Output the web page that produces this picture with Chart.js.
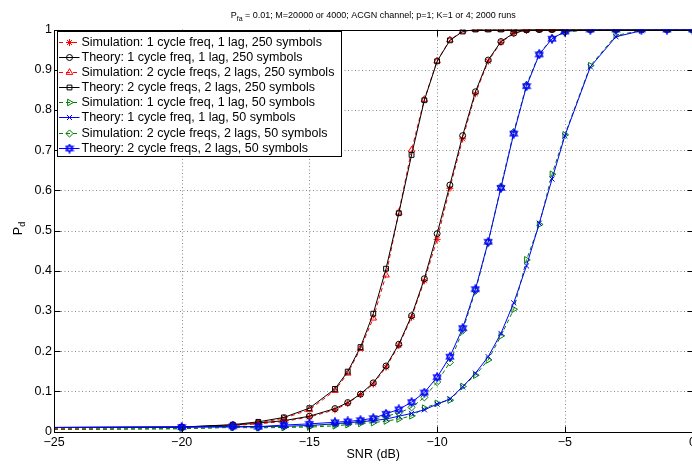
<!DOCTYPE html>
<html>
<head>
<meta charset="utf-8">
<script src="https://cdn.jsdelivr.net/npm/chart.js@4"></script>
<style>
html,body{margin:0;padding:0;background:#fff;overflow:hidden;}
canvas{display:block;}
</style>
</head>
<body>
<canvas id="c" width="700" height="465"></canvas>
<script>
// ---- data ----
const snr = [-25, -20, -18, -17, -16, -15, -14, -13.5, -13, -12.5, -12, -11.5, -11, -10.5, -10, -9.5, -9, -8.5, -8, -7.5, -7, -6.5, -6, -5.5, -5, -4, -3, -2, -1, 0];

const sim1c250 = [0.008, 0.010, 0.015, 0.019, 0.025, 0.036, 0.054, 0.070, 0.092, 0.118, 0.160, 0.214, 0.284, 0.375, 0.478, 0.605, 0.728, 0.840, 0.921, 0.968, 0.990, 0.998, 1, 1, 1, 1, 1, 1, 1, 1];
const th1c250  = [0.010, 0.011, 0.016, 0.021, 0.027, 0.038, 0.057, 0.072, 0.093, 0.121, 0.163, 0.217, 0.288, 0.380, 0.492, 0.613, 0.736, 0.845, 0.924, 0.970, 0.991, 0.999, 1, 1, 1, 1, 1, 1, 1, 1];
const sim2c250 = [0.008, 0.010, 0.016, 0.021, 0.033, 0.054, 0.102, 0.145, 0.206, 0.282, 0.389, 0.545, 0.700, 0.826, 0.922, 0.974, 0.996, 1, 1, 1, 1, 1, 1, 1, 1, 1, 1, 1, 1, 1];
const th2c250  = [0.010, 0.011, 0.017, 0.024, 0.035, 0.058, 0.106, 0.149, 0.210, 0.293, 0.405, 0.543, 0.688, 0.824, 0.921, 0.973, 0.995, 1, 1, 1, 1, 1, 1, 1, 1, 1, 1, 1, 1, 1];
const sim1c50  = [0.005, 0.007, 0.010, 0.009, 0.010, 0.011, 0.014, 0.017, 0.020, 0.022, 0.026, 0.031, 0.039, 0.058, 0.070, 0.078, 0.112, 0.140, 0.178, 0.238, 0.304, 0.427, 0.515, 0.640, 0.738, 0.910, 0.985, 0.998, 1, 1];
const th1c50   = [0.010, 0.011, 0.011, 0.012, 0.013, 0.015, 0.019, 0.022, 0.024, 0.027, 0.031, 0.038, 0.045, 0.054, 0.068, 0.081, 0.111, 0.145, 0.186, 0.244, 0.320, 0.412, 0.518, 0.628, 0.735, 0.907, 0.982, 0.997, 1, 1];
const sim2c50  = [0.005, 0.007, 0.011, 0.010, 0.012, 0.014, 0.018, 0.021, 0.025, 0.030, 0.038, 0.046, 0.060, 0.085, 0.123, 0.172, 0.251, 0.350, 0.470, 0.610, 0.745, 0.862, 0.940, 0.978, 0.993, 1, 1, 1, 1, 1];
const th2c50   = [0.010, 0.011, 0.013, 0.012, 0.016, 0.019, 0.023, 0.025, 0.028, 0.033, 0.044, 0.055, 0.073, 0.097, 0.135, 0.186, 0.257, 0.354, 0.472, 0.606, 0.741, 0.859, 0.938, 0.977, 0.995, 1, 1, 1, 1, 1];

const seriesNames = [
  'Simulation: 1 cycle freq, 1 lag, 250 symbols',
  'Theory: 1 cycle freq, 1 lag, 250 symbols',
  'Simulation: 2 cycle freqs, 2 lags, 250 symbols',
  'Theory: 2 cycle freqs, 2 lags, 250 symbols',
  'Simulation: 1 cycle freq, 1 lag, 50 symbols',
  'Theory: 1 cycle freq, 1 lag, 50 symbols',
  'Simulation: 2 cycle freqs, 2 lags, 50 symbols',
  'Theory: 2 cycle freqs, 2 lags, 50 symbols'
];
const xTickLabels = ['\u221225', '\u221220', '\u221215', '\u221210', '\u22125', '0'];
const yTickLabels = ['0', '0.1', '0.2', '0.3', '0.4', '0.5', '0.6', '0.7', '0.8', '0.9', '1'];
const titleMain = 'P';
const titleSub = 'fa';
const titleRest = ' = 0.01; M=20000 or 4000; ACGN channel; p=1; K=1 or 4; 2000 runs';
const xTitle = 'SNR (dB)';
const yTitleMain = 'P';
const yTitleSub = 'd';

// ---- styles ----
const FONT = "'Liberation Sans', Arial, Helvetica, sans-serif";
const FS = 12.5;
const RED = '#ff0000', BLACK = '#000000', GREEN = '#008000', BLUE = '#0000ff';

function makeHexagram(color) {
  const c = document.createElement('canvas');
  c.width = 10; c.height = 10;
  const g = c.getContext('2d');
  g.strokeStyle = color; g.lineWidth = 1.2;
  const cx = 5, cy = 5, r = 4.2;
  for (let t = 0; t < 2; t++) {
    g.beginPath();
    for (let k = 0; k < 3; k++) {
      const a = -Math.PI / 2 + t * Math.PI + k * 2 * Math.PI / 3;
      const px = cx + r * Math.cos(a), py = cy + r * Math.sin(a);
      if (k === 0) g.moveTo(px, py); else g.lineTo(px, py);
    }
    g.closePath();
    g.stroke();
  }
  return c;
}
const hexagram = makeHexagram(BLUE);

const styles = [
  {color: RED, dash: [4, 3], point: 'star', radius: 3.5, rot: 0},
  {color: BLACK, dash: [], point: 'circle', radius: 3, rot: 0},
  {color: RED, dash: [4, 3], point: 'triangle', radius: 3.8, rot: 0},
  {color: BLACK, dash: [], point: 'rect', radius: 3.4, rot: 0},
  {color: GREEN, dash: [4, 3], point: 'triangle', radius: 3.8, rot: 90},
  {color: BLUE, dash: [], point: 'crossRot', radius: 3.6, rot: 0},
  {color: GREEN, dash: [4, 3], point: 'rectRot', radius: 3.6, rot: 0},
  {color: BLUE, dash: [], point: hexagram, radius: 4, rot: 0}
];
const seriesValues = [sim1c250, th1c250, sim2c250, th2c250, sim1c50, th1c50, sim2c50, th2c50];

const datasets = seriesValues.map((vals, i) => ({
  label: seriesNames[i],
  data: snr.map((x, j) => ({x: x, y: vals[j]})),
  borderColor: styles[i].color,
  backgroundColor: 'rgba(0,0,0,0)',
  borderWidth: 1,
  borderDash: styles[i].dash,
  pointStyle: styles[i].point,
  pointRotation: styles[i].rot,
  pointRadius: snr.map((x, j) => j === 0 ? 0 : styles[i].radius),
  pointBorderColor: styles[i].color,
  pointBackgroundColor: 'rgba(0,0,0,0)',
  pointBorderWidth: 1,
  tension: 0,
  order: 20 - i
}));

const framePlugin = {
  id: 'frame',
  beforeDatasetsDraw(chart) {
    const ctx = chart.ctx, a = chart.chartArea;
    const xs = chart.scales.x, ys = chart.scales.y;
    ctx.save();
    ctx.strokeStyle = '#8a8a8a';
    ctx.lineWidth = 1;
    ctx.setLineDash([1, 2.5]);
    xs.ticks.forEach(t => {
      if (t.value <= xs.min || t.value >= xs.max) return;
      const px = Math.round(xs.getPixelForValue(t.value)) + 0.5;
      ctx.beginPath(); ctx.moveTo(px, a.top); ctx.lineTo(px, a.bottom); ctx.stroke();
    });
    ys.ticks.forEach(t => {
      if (t.value <= ys.min || t.value >= ys.max) return;
      const py = Math.round(ys.getPixelForValue(t.value)) + 0.5;
      ctx.beginPath(); ctx.moveTo(a.left, py); ctx.lineTo(a.right, py); ctx.stroke();
    });
    ctx.restore();
  },
  afterDatasetsDraw(chart) {
    const ctx = chart.ctx, a = chart.chartArea;
    const xs = chart.scales.x, ys = chart.scales.y;
    ctx.save();
    ctx.strokeStyle = '#000';
    ctx.lineWidth = 1;
    ctx.setLineDash([]);
    const L = Math.round(a.left) + 0.5, R = Math.round(a.right) + 0.5;
    const T = Math.round(a.top) + 0.5, B = Math.round(a.bottom) + 0.5;
    ctx.strokeRect(L, T, R - L, B - T);
    const tl = 6;
    xs.ticks.forEach(t => {
      const px = Math.round(xs.getPixelForValue(t.value)) + 0.5;
      ctx.beginPath();
      ctx.moveTo(px, B); ctx.lineTo(px, B - tl);
      ctx.moveTo(px, T); ctx.lineTo(px, T + tl);
      ctx.stroke();
    });
    ys.ticks.forEach(t => {
      const py = Math.round(ys.getPixelForValue(t.value)) + 0.5;
      ctx.beginPath();
      ctx.moveTo(L, py); ctx.lineTo(L + tl, py);
      ctx.moveTo(R, py); ctx.lineTo(R - tl, py);
      ctx.stroke();
    });
    ctx.restore();
  },
  afterDraw(chart) {
    const ctx = chart.ctx, a = chart.chartArea;
    const cx = (a.left + a.right) / 2;
    ctx.save();
    // title
    ctx.fillStyle = '#000';
    ctx.textBaseline = 'alphabetic';
    ctx.textAlign = 'left';
    const f1 = '9px ' + FONT, f2 = '7px ' + FONT;
    ctx.font = f1; const w1 = ctx.measureText(titleMain).width;
    const w3 = ctx.measureText(titleRest).width;
    ctx.font = f2; const w2 = ctx.measureText(titleSub).width;
    let x0 = cx - (w1 + w2 + w3) / 2;
    const ty = 18;
    ctx.font = f1; ctx.fillText(titleMain, x0, ty);
    ctx.font = f2; ctx.fillText(titleSub, x0 + w1, ty + 2.5);
    ctx.font = f1; ctx.fillText(titleRest, x0 + w1 + w2, ty);
    // x title
    ctx.font = FS + 'px ' + FONT;
    ctx.textAlign = 'center';
    ctx.textBaseline = 'middle';
    ctx.fillText(xTitle, cx, 454.5);
    // y title (rotated)
    ctx.save();
    ctx.translate(22, (a.top + a.bottom) / 2 - 2);
    ctx.rotate(-Math.PI / 2);
    ctx.textAlign = 'left';
    ctx.textBaseline = 'alphabetic';
    ctx.font = FS + 'px ' + FONT;
    const pw = ctx.measureText(yTitleMain).width;
    ctx.font = '9px ' + FONT;
    const dw = ctx.measureText(yTitleSub).width;
    const sx = -(pw + dw) / 2;
    ctx.font = FS + 'px ' + FONT; ctx.fillText(yTitleMain, sx, 0);
    ctx.font = '9px ' + FONT; ctx.fillText(yTitleSub, sx + pw, 3);
    ctx.restore();
    // legend box
    const bx = 57.5, by = 31.5, bw = 284, bh = 125;
    ctx.fillStyle = '#fff';
    ctx.fillRect(bx, by, bw, bh);
    ctx.strokeStyle = '#000';
    ctx.lineWidth = 1;
    ctx.strokeRect(bx, by, bw, bh);
    const rowH = 15.14, row0 = 41.7;
    chart.data.datasets.forEach((ds, i) => {
      const y = Math.round(row0 + i * rowH) + 0.5;
      ctx.strokeStyle = ds.borderColor;
      ctx.lineWidth = 1;
      ctx.setLineDash(ds.borderDash);
      ctx.beginPath(); ctx.moveTo(59, y); ctx.lineTo(79.5, y); ctx.stroke();
      ctx.setLineDash([]);
      ctx.fillStyle = 'rgba(0,0,0,0)';
      Chart.helpers.drawPoint(ctx, {
        pointStyle: ds.pointStyle, rotation: ds.pointRotation,
        radius: styles[i].radius, borderWidth: 1
      }, 69.5, y);
      ctx.fillStyle = '#000';
      ctx.font = FS + 'px ' + FONT;
      ctx.textAlign = 'left';
      ctx.textBaseline = 'middle';
      ctx.fillText(ds.label, 81.5, y + 0.5);
    });
    ctx.restore();
  }
};

new Chart(document.getElementById('c'), {
  type: 'line',
  data: {datasets: datasets},
  options: {
    responsive: false,
    animation: false,
    devicePixelRatio: 1,
    layout: {padding: {top: 29.5, right: 6, left: 0, bottom: 0}},
    plugins: {legend: {display: false}, tooltip: {enabled: false}, title: {display: false}},
    scales: {
      x: {
        type: 'linear', min: -25, max: 0,
        afterFit(s) { s.height = 33.5; },
        ticks: {
          stepSize: 5, autoSkip: false, maxRotation: 0, padding: 4,
          color: '#000', font: {family: FONT, size: FS},
          callback: (v, i) => xTickLabels[i]
        },
        grid: {display: false, drawTicks: false},
        border: {display: false}
      },
      y: {
        type: 'linear', min: 0, max: 1,
        afterFit(s) { s.width = 54; },
        ticks: {
          stepSize: 0.1, autoSkip: false, padding: 2,
          color: '#000', font: {family: FONT, size: FS},
          callback: (v, i) => yTickLabels[i]
        },
        grid: {display: false, drawTicks: false},
        border: {display: false}
      }
    }
  },
  plugins: [framePlugin]
});
</script>
</body>
</html>
